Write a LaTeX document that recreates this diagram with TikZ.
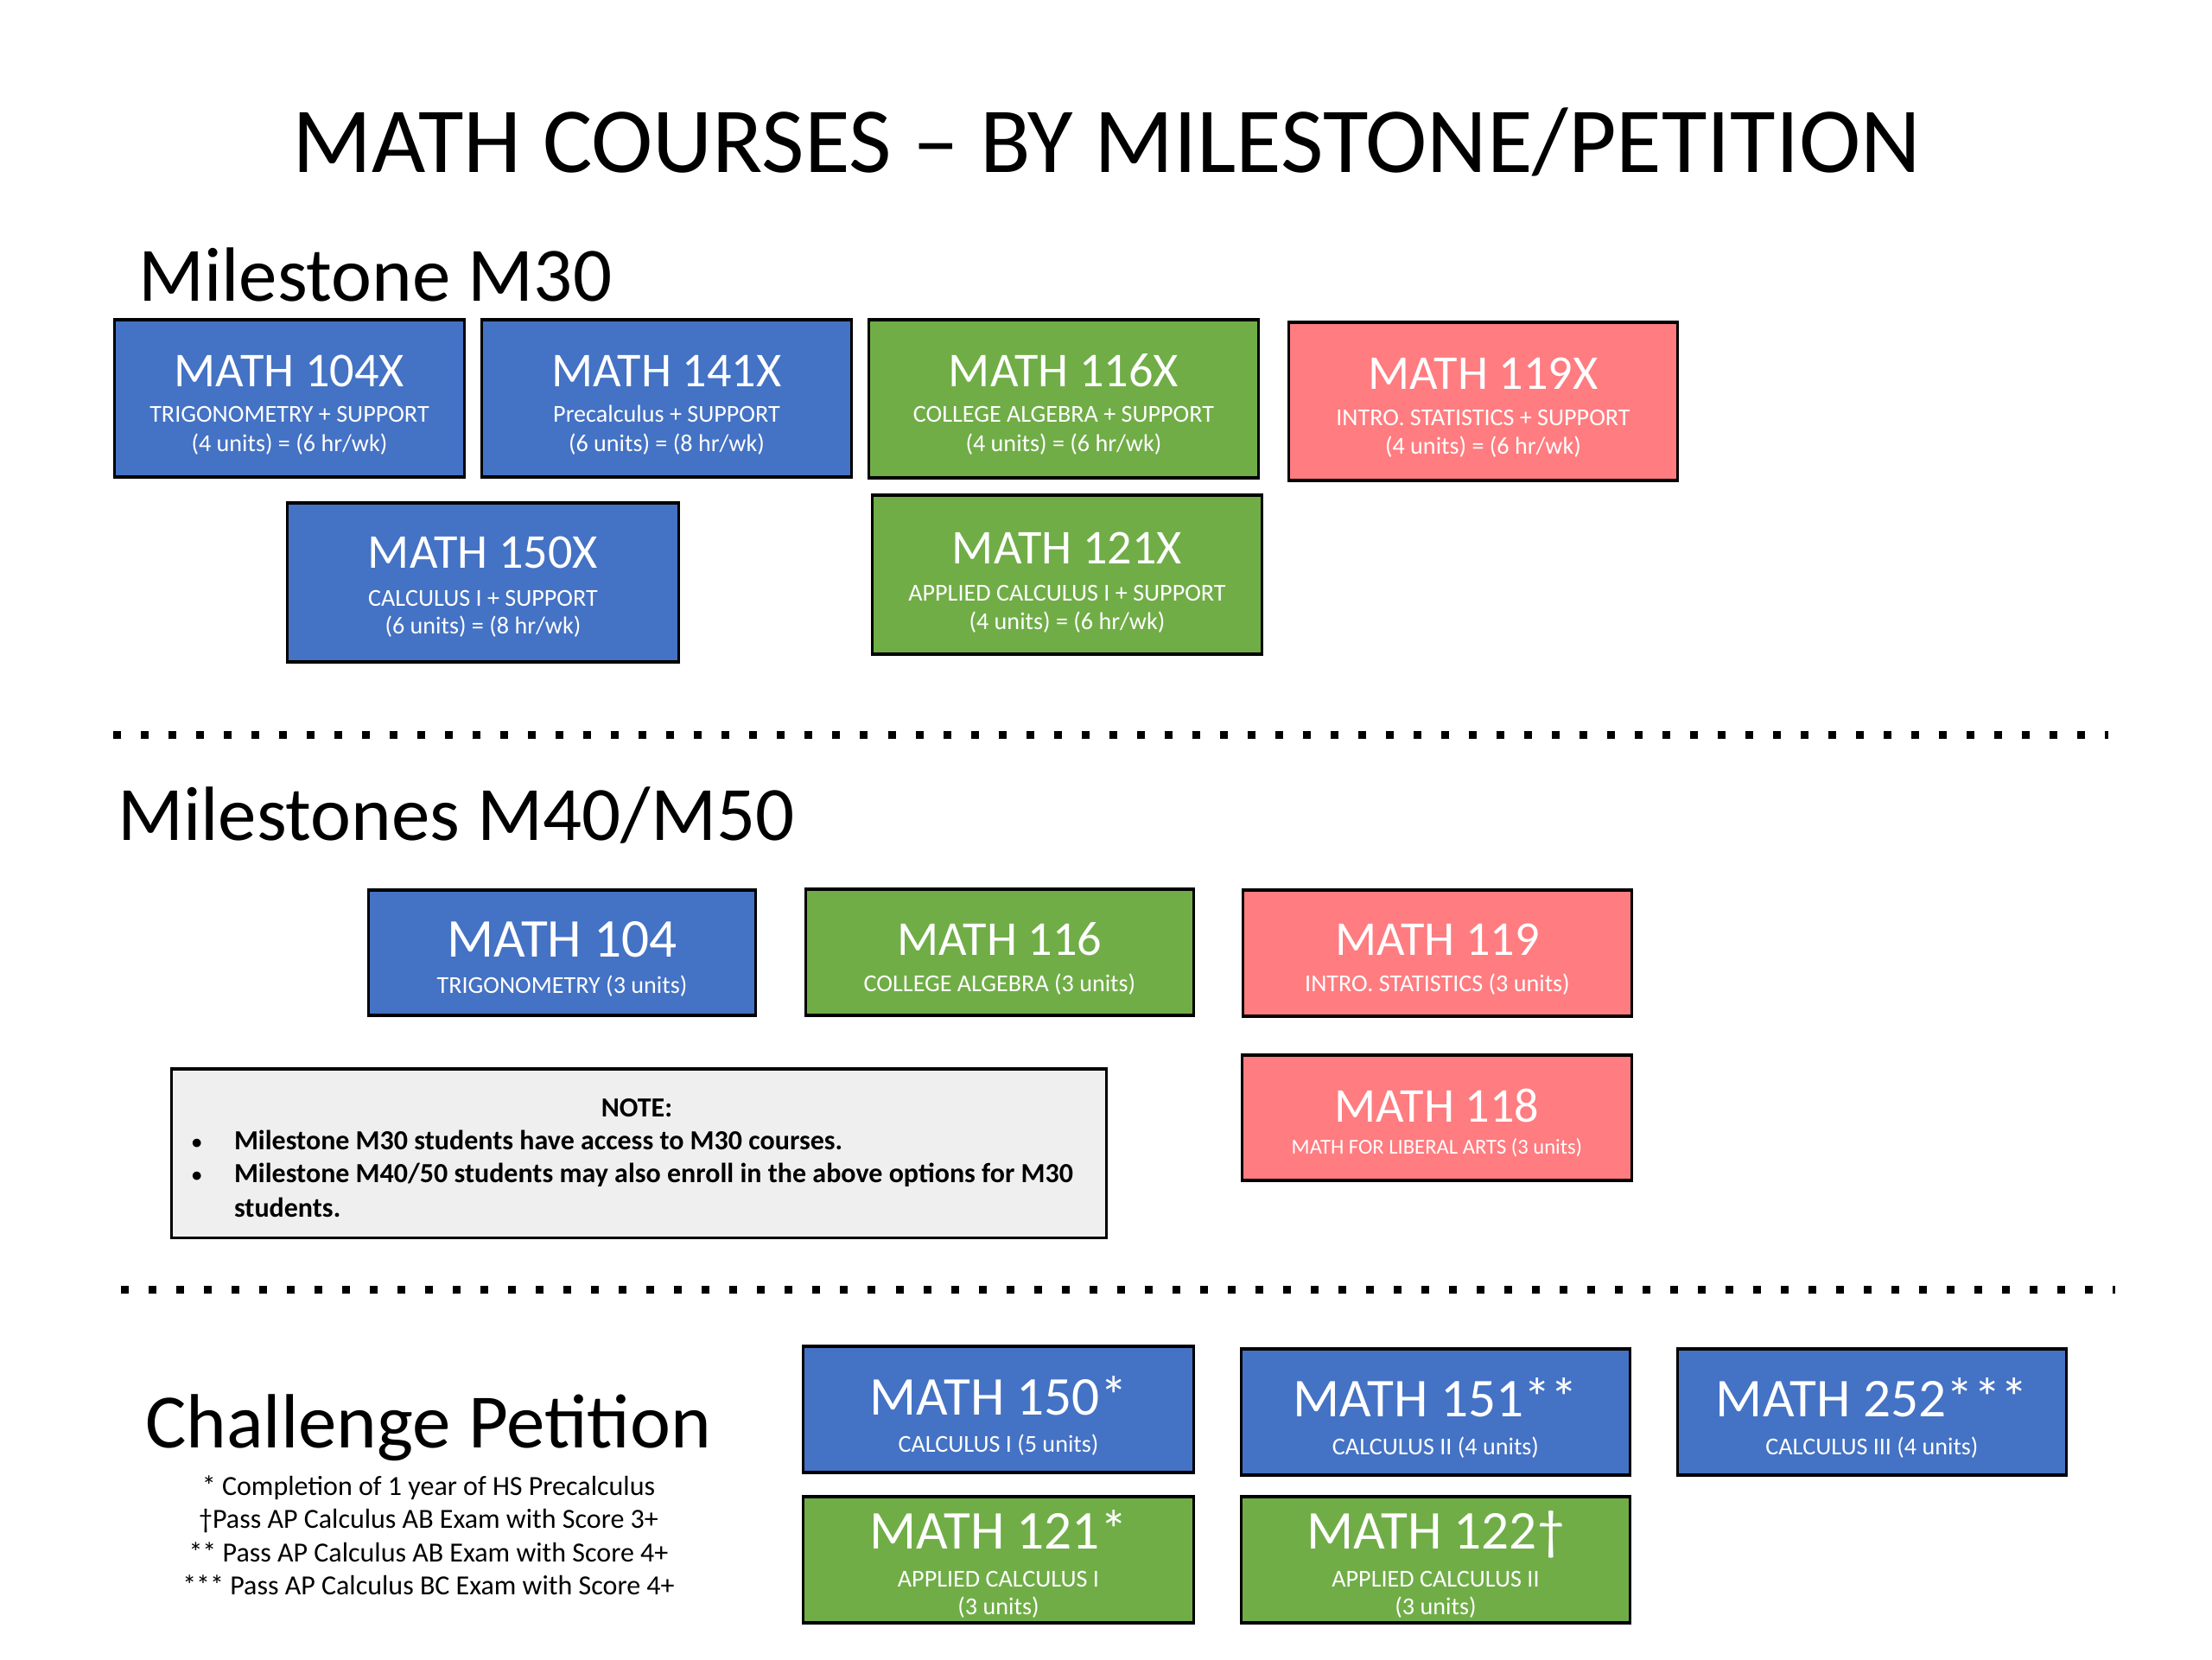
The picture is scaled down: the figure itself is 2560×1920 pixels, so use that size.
\documentclass[tikz,border=0pt]{standalone}
\usepackage{fontspec}
\setmainfont{Carlito}
\definecolor{cblue}{HTML}{4472C4}
\definecolor{cgreen}{HTML}{70AD47}
\definecolor{cred}{HTML}{FF7C80}
\definecolor{cnote}{HTML}{EFEFEF}
\tikzset{
  box/.style={draw=black, line width=0.9pt, inner sep=0pt, outer sep=0pt},
  bluebox/.style={box, fill=cblue},
  greenbox/.style={box, fill=cgreen},
  redbox/.style={box, fill=cred},
  notebox/.style={box, fill=cnote},
  basetxt/.style={anchor=base, inner sep=0pt, outer sep=0pt},
  ctitle/.style={basetxt, text=white, font=\fontsize{16}{19}\selectfont},
  ctitlebig/.style={basetxt, text=white, font=\fontsize{18}{21}\selectfont},
  csub/.style={basetxt, text=white, font=\fontsize{8}{10}\selectfont},
  csubsmall/.style={basetxt, text=white, font=\fontsize{7}{9}\selectfont},
  heading/.style={anchor=base west, inner sep=0pt, outer sep=0pt, font=\fontsize{25.3}{30}\selectfont},
  foot/.style={basetxt, font=\fontsize{9.1}{11}\selectfont},
  notetxt/.style={anchor=base west, inner sep=0pt, outer sep=0pt, font=\fontsize{9.1}{11}\selectfont\bfseries},
  notebul/.style={anchor=base west, inner sep=0pt, outer sep=0pt, font=\fontsize{6.5}{8}\selectfont\bfseries},
  dotline/.style={line width=0.09cm, dash pattern=on 0.09cm off 0.23cm},
}
\begin{document}
\begin{tikzpicture}[x=0.01cm, y=-0.01cm]
\useasboundingbox (0,0) rectangle (2560,1920);
\fill[white] (0,0) rectangle (2560,1920);

% title
\node[basetxt, font=\fontsize{30.6}{36}\selectfont] (title) at (1281,199) {MATH COURSES -- BY MILESTONE/PETITION};

% Milestone M30
\node[heading] (h30) at (160,348) {Milestone M30};

\node[bluebox, minimum width=4.04cm, minimum height=1.82cm] (b104x) at (335,461) {};
\node[ctitle] (t104x) at (335,447) {MATH 104X};
\node[csub] (s104xa) at (335,488) {TRIGONOMETRY + SUPPORT};
\node[csub] (s104xb) at (335,522) {(4 units) = (6 hr/wk)};

\node[bluebox, minimum width=4.27cm, minimum height=1.82cm] (b141x) at (771.5,461) {};
\node[ctitle] (t141x) at (771.5,447) {MATH 141X};
\node[csub] (s141xa) at (771.5,488) {Precalculus + SUPPORT};
\node[csub] (s141xb) at (771.5,522) {(6 units) = (8 hr/wk)};

\node[greenbox, minimum width=4.50cm, minimum height=1.83cm] (b116x) at (1231,461.5) {};
\node[ctitle] (t116x) at (1231,447) {MATH 116X};
\node[csub] (s116xa) at (1231,488) {COLLEGE ALGEBRA + SUPPORT};
\node[csub] (s116xb) at (1231,522) {(4 units) = (6 hr/wk)};

\node[redbox, minimum width=4.49cm, minimum height=1.83cm] (b119x) at (1716.5,464.5) {};
\node[ctitle] (t119x) at (1716.5,450) {MATH 119X};
\node[csub] (s119xa) at (1716.5,492) {INTRO. STATISTICS + SUPPORT};
\node[csub] (s119xb) at (1716.5,525) {(4 units) = (6 hr/wk)};

\node[bluebox, minimum width=4.52cm, minimum height=1.84cm] (b150x) at (559,674) {};
\node[ctitle] (t150x) at (559,657) {MATH 150X};
\node[csub] (s150xa) at (559,701) {CALCULUS I + SUPPORT};
\node[csub] (s150xb) at (559,733) {(6 units) = (8 hr/wk)};

\node[greenbox, minimum width=4.50cm, minimum height=1.84cm] (b121x) at (1235,665) {};
\node[ctitle] (t121x) at (1235,652) {MATH 121X};
\node[csub] (s121xa) at (1235,695) {APPLIED CALCULUS I + SUPPORT};
\node[csub] (s121xb) at (1235,728) {(4 units) = (6 hr/wk)};

% dotted separator 1
\coordinate (d1s) at (131,850);
\coordinate (d1e) at (2440,850);
\draw[dotline] (d1s) -- (d1e);

% Milestones M40/M50
\node[heading] (h4050) at (136,972) {Milestones M40/M50};

\node[bluebox, minimum width=4.47cm, minimum height=1.45cm] (b104) at (650.5,1102.5) {};
\node[ctitlebig] (t104) at (650.5,1107) {MATH 104};
\node[csub] (s104) at (650.5,1149) {TRIGONOMETRY (3 units)};

\node[greenbox, minimum width=4.48cm, minimum height=1.46cm] (b116) at (1157,1102) {};
\node[ctitle] (t116) at (1157,1105) {MATH 116};
\node[csub] (s116) at (1157,1147) {COLLEGE ALGEBRA (3 units)};

\node[redbox, minimum width=4.49cm, minimum height=1.46cm] (b119) at (1663.5,1103) {};
\node[ctitle] (t119) at (1663.5,1105) {MATH 119};
\node[csub] (s119) at (1663.5,1147) {INTRO. STATISTICS (3 units)};

\node[redbox, minimum width=4.50cm, minimum height=1.45cm] (b118) at (1663,1293.5) {};
\node[ctitle] (t118) at (1663,1298) {MATH 118};
\node[csubsmall] (s118) at (1663,1335) {MATH FOR LIBERAL ARTS (3 units)};

% note
\node[notebox, minimum width=10.81cm, minimum height=1.95cm] (note) at (739.5,1334.5) {};
\node[basetxt, font=\fontsize{9.1}{11}\selectfont\bfseries] (notehead) at (737,1292) {NOTE:};
\node[notebul] (bul1) at (222,1329) {\textbullet};
\node[notebul] (bul2) at (222,1367) {\textbullet};
\node[notetxt] (note1) at (271,1330) {Milestone M30 students have access to M30 courses.};
\node[notetxt] (note2) at (271,1368) {Milestone M40/50 students may also enroll in the above options for M30};
\node[notetxt] (note3) at (271,1408) {students.};

% dotted separator 2
\coordinate (d2s) at (140,1492);
\coordinate (d2e) at (2448,1492);
\draw[dotline] (d2s) -- (d2e);

% Challenge petition
\node[heading] (hcp) at (168,1675) {Challenge Petition};
\node[foot] (f1) at (496,1730) {* Completion of 1 year of HS Precalculus};
\node[foot] (f2) at (496,1768) {\char"2020Pass AP Calculus AB Exam with Score 3+};
\node[foot] (f3) at (496,1807) {** Pass AP Calculus AB Exam with Score 4+};
\node[foot] (f4) at (496,1845) {*** Pass AP Calculus BC Exam with Score 4+};

\node[bluebox, minimum width=4.51cm, minimum height=1.46cm] (b150) at (1155.5,1631) {};
\node[ctitlebig] (t150) at (1155.5,1637) {MATH 150*};
\node[csub] (s150) at (1155.5,1680) {CALCULUS I (5 units)};

\node[bluebox, minimum width=4.49cm, minimum height=1.46cm] (b151) at (1661.5,1634) {};
\node[ctitlebig] (t151) at (1661.5,1639) {MATH 151**};
\node[csub] (s151) at (1661.5,1683) {CALCULUS II (4 units)};

\node[bluebox, minimum width=4.49cm, minimum height=1.46cm] (b252) at (2166.5,1634) {};
\node[ctitlebig] (t252) at (2166.5,1639) {MATH 252***};
\node[csub] (s252) at (2166.5,1683) {CALCULUS III (4 units)};

\node[greenbox, minimum width=4.51cm, minimum height=1.46cm] (b121) at (1155.5,1805) {};
\node[ctitlebig] (t121) at (1155.5,1792) {MATH 121*};
\node[csub] (s121a) at (1155.5,1836) {APPLIED CALCULUS I};
\node[csub] (s121b) at (1155.5,1868) {(3 units)};

\node[greenbox, minimum width=4.49cm, minimum height=1.46cm] (b122) at (1661.5,1805) {};
\node[ctitlebig] (t122) at (1661.5,1792) {MATH 122\char"2020};
\node[csub] (s122a) at (1661.5,1836) {APPLIED CALCULUS II};
\node[csub] (s122b) at (1661.5,1868) {(3 units)};
\end{tikzpicture}
\end{document}
